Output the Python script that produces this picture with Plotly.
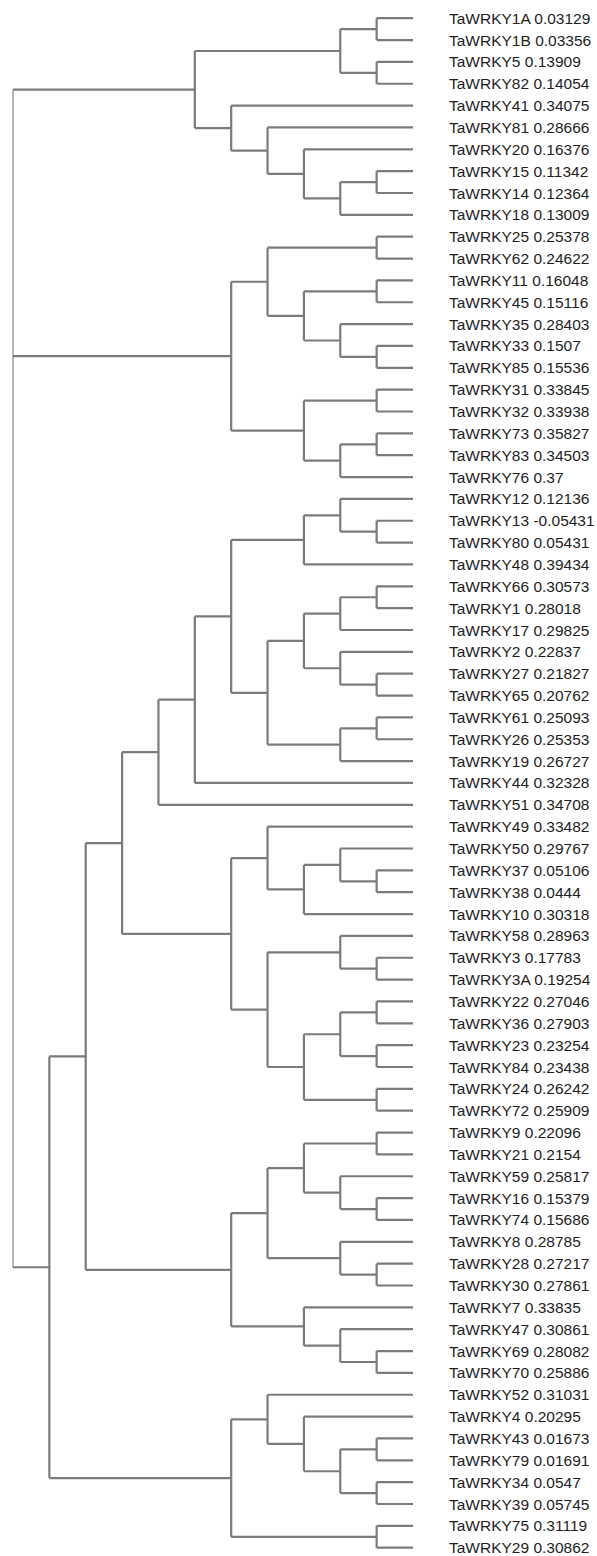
import plotly.graph_objects as go

# Leaf names (top to bottom) and their scores
names = [
    "TaWRKY1A", "TaWRKY1B", "TaWRKY5", "TaWRKY82", "TaWRKY41", "TaWRKY81", "TaWRKY20",
    "TaWRKY15", "TaWRKY14", "TaWRKY18", "TaWRKY25", "TaWRKY62", "TaWRKY11", "TaWRKY45",
    "TaWRKY35", "TaWRKY33", "TaWRKY85", "TaWRKY31", "TaWRKY32", "TaWRKY73", "TaWRKY83",
    "TaWRKY76", "TaWRKY12", "TaWRKY13", "TaWRKY80", "TaWRKY48", "TaWRKY66", "TaWRKY1",
    "TaWRKY17", "TaWRKY2", "TaWRKY27", "TaWRKY65", "TaWRKY61", "TaWRKY26", "TaWRKY19",
    "TaWRKY44", "TaWRKY51", "TaWRKY49", "TaWRKY50", "TaWRKY37", "TaWRKY38", "TaWRKY10",
    "TaWRKY58", "TaWRKY3", "TaWRKY3A", "TaWRKY22", "TaWRKY36", "TaWRKY23", "TaWRKY84",
    "TaWRKY24", "TaWRKY72", "TaWRKY9", "TaWRKY21", "TaWRKY59", "TaWRKY16", "TaWRKY74",
    "TaWRKY8", "TaWRKY28", "TaWRKY30", "TaWRKY7", "TaWRKY47", "TaWRKY69", "TaWRKY70",
    "TaWRKY52", "TaWRKY4", "TaWRKY43", "TaWRKY79", "TaWRKY34", "TaWRKY39", "TaWRKY75",
    "TaWRKY29",
]
scores = [
    0.03129, 0.03356, 0.13909, 0.14054, 0.34075, 0.28666, 0.16376,
    0.11342, 0.12364, 0.13009, 0.25378, 0.24622, 0.16048, 0.15116,
    0.28403, 0.1507, 0.15536, 0.33845, 0.33938, 0.35827, 0.34503,
    0.37, 0.12136, -0.05431, 0.05431, 0.39434, 0.30573, 0.28018,
    0.29825, 0.22837, 0.21827, 0.20762, 0.25093, 0.25353, 0.26727,
    0.32328, 0.34708, 0.33482, 0.29767, 0.05106, 0.0444, 0.30318,
    0.28963, 0.17783, 0.19254, 0.27046, 0.27903, 0.23254, 0.23438,
    0.26242, 0.25909, 0.22096, 0.2154, 0.25817, 0.15379, 0.15686,
    0.28785, 0.27217, 0.27861, 0.33835, 0.30861, 0.28082, 0.25886,
    0.31031, 0.20295, 0.01673, 0.01691, 0.0547, 0.05745, 0.31119,
    0.30862,
]

# Tree topology (nested tuples of leaf names)
clade_a = ((("TaWRKY1A", "TaWRKY1B"), ("TaWRKY5", "TaWRKY82")),
           ("TaWRKY41", ("TaWRKY81", ("TaWRKY20", (("TaWRKY15", "TaWRKY14"), "TaWRKY18")))))
clade_b = ((("TaWRKY25", "TaWRKY62"), (("TaWRKY11", "TaWRKY45"), ("TaWRKY35", ("TaWRKY33", "TaWRKY85")))),
           (("TaWRKY31", "TaWRKY32"), (("TaWRKY73", "TaWRKY83"), "TaWRKY76")))
clade_c1 = ((("TaWRKY12", ("TaWRKY13", "TaWRKY80")), "TaWRKY48"),
            (((("TaWRKY66", "TaWRKY1"), "TaWRKY17"), ("TaWRKY2", ("TaWRKY27", "TaWRKY65"))),
             (("TaWRKY61", "TaWRKY26"), "TaWRKY19")))
clade_c2 = (("TaWRKY49", (("TaWRKY50", ("TaWRKY37", "TaWRKY38")), "TaWRKY10")),
            (("TaWRKY58", ("TaWRKY3", "TaWRKY3A")),
             ((("TaWRKY22", "TaWRKY36"), ("TaWRKY23", "TaWRKY84")), ("TaWRKY24", "TaWRKY72"))))
clade_c3 = (((("TaWRKY9", "TaWRKY21"), ("TaWRKY59", ("TaWRKY16", "TaWRKY74"))),
             ("TaWRKY8", ("TaWRKY28", "TaWRKY30"))),
            ("TaWRKY7", ("TaWRKY47", ("TaWRKY69", "TaWRKY70"))))
clade_c4 = (("TaWRKY52", ("TaWRKY4", (("TaWRKY43", "TaWRKY79"), ("TaWRKY34", "TaWRKY39")))),
            ("TaWRKY75", "TaWRKY29"))
clade_c = ((((((clade_c1, "TaWRKY44"), "TaWRKY51"), clade_c2), clade_c3), clade_c4))
tree = (clade_a, clade_b, clade_c)

leaf_index = {n: i for i, n in enumerate(names)}


def height(node):
    if isinstance(node, str):
        return 0
    return 1 + max(height(c) for c in node)


H = height(tree)


def layout(node):
    """Return (x, y) of a node; x = depth from root, leaves aligned at H."""
    if isinstance(node, str):
        return H, leaf_index[node]
    pts = [layout(c) for c in node]
    return H - height(node), (pts[0][1] + pts[-1][1]) / 2


seg_x, seg_y = [], []
root_x, root_y = [], []


def collect(node, is_root=False):
    if isinstance(node, str):
        return
    x, _ = layout(node)
    kids = [layout(c) for c in node]
    # vertical bar
    vx, vy = (root_x, root_y) if is_root else (seg_x, seg_y)
    vx += [x, x, None]
    vy += [kids[0][1], kids[-1][1], None]
    # horizontal branches
    for cx, cy in kids:
        seg_x.extend([x, cx, None])
        seg_y.extend([cy, cy, None])
    for c in node:
        collect(c)


collect(tree, is_root=True)

fig = go.Figure()
fig.add_trace(go.Scatter(x=root_x, y=root_y, mode="lines",
                         line=dict(color="#a0a0a0", width=1.5),
                         hoverinfo="skip", showlegend=False))
fig.add_trace(go.Scatter(x=seg_x, y=seg_y, mode="lines",
                         line=dict(color="#7b7b7b", width=2.2),
                         hoverinfo="skip", showlegend=False))

for n, s in zip(names, scores):
    fig.add_annotation(x=H, y=leaf_index[n], text=f"{n} {s}",
                       showarrow=False, xanchor="left", yanchor="middle",
                       xshift=34, font=dict(family="Liberation Sans, Arial, sans-serif",
                                            size=15.5, color="#1e1e1e"))

# pixel mapping: root at x=13px, leaves at 413px; first leaf at 18px, spacing ~21.85px
px_per_x = 400 / H
px_per_y = 21.85
fig.update_xaxes(range=[-13 / px_per_x, (597 - 13) / px_per_x], visible=False, fixedrange=True)
fig.update_yaxes(range=[(1556 - 18.2) / px_per_y, -18.2 / px_per_y], visible=False, fixedrange=True)
fig.update_layout(width=597, height=1556, margin=dict(l=0, r=0, t=0, b=0),
                  plot_bgcolor="white", paper_bgcolor="white")

fig.write_html("out.html")
